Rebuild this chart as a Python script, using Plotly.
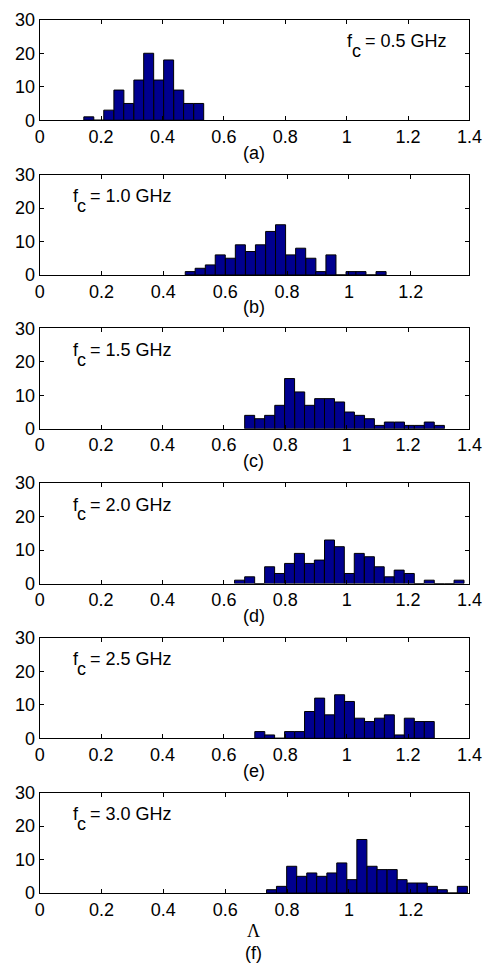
import plotly.graph_objects as go

# ---------------- data ----------------
panel_labels = ["(a)", "(b)", "(c)", "(d)", "(e)", "(f)"]
fc_labels = ["0.5", "1.0", "1.5", "2.0", "2.5", "3.0"]
bin_width = 0.0325

centers_a = [0.160, 0.193, 0.225, 0.258, 0.290, 0.323, 0.355, 0.388, 0.420, 0.453, 0.485, 0.518]
counts_a = [1, 0, 3, 9, 5, 12, 20, 12, 18, 9, 5, 5]

centers_b = [0.487, 0.519, 0.552, 0.584, 0.617, 0.649, 0.682, 0.714, 0.747, 0.779,
             0.812, 0.844, 0.877, 0.909, 0.942, 0.974, 1.007, 1.039, 1.072, 1.104]
counts_b = [1, 2, 3, 6, 5, 9, 7, 9, 13, 15, 6, 8, 5, 1, 6, 0, 1, 1, 0, 1]

centers_c = [0.684, 0.717, 0.749, 0.782, 0.814, 0.847, 0.879, 0.912, 0.944, 0.977,
             1.009, 1.042, 1.074, 1.107, 1.139, 1.172, 1.204, 1.237, 1.269, 1.302]
counts_c = [4, 3, 4, 7, 15, 11, 7, 9, 9, 8, 5, 4, 3, 1, 2, 2, 1, 1, 2, 1]

centers_d = [0.651, 0.684, 0.716, 0.749, 0.781, 0.814, 0.846, 0.879, 0.911, 0.944, 0.976, 1.009,
             1.041, 1.074, 1.106, 1.139, 1.171, 1.204, 1.236, 1.269, 1.301, 1.334, 1.366]
counts_d = [1, 2, 0, 5, 3, 6, 9, 6, 7, 13, 11, 3, 9, 8, 5, 2, 4, 3, 0, 1, 0, 0, 1]

centers_e = [0.717, 0.749, 0.782, 0.814, 0.847, 0.879, 0.912, 0.944, 0.977,
             1.009, 1.042, 1.074, 1.107, 1.139, 1.172, 1.204, 1.237, 1.269]
counts_e = [2, 1, 0, 2, 2, 8, 12, 7, 13, 11, 6, 5, 6, 7, 1, 6, 5, 5]

centers_f = [0.750, 0.782, 0.815, 0.847, 0.880, 0.912, 0.945, 0.977, 1.010, 1.042,
             1.075, 1.107, 1.140, 1.172, 1.205, 1.237, 1.270, 1.302, 1.335, 1.367]
counts_f = [1, 2, 8, 5, 6, 5, 6, 9, 4, 16, 8, 7, 7, 4, 3, 3, 2, 1, 0, 2]

x_max = [1.4, 1.39, 1.4, 1.4, 1.4, 1.39]
y_ticks = [0, 10, 20, 30]
x_ticks = [0, 0.2, 0.4, 0.6, 0.8, 1.0, 1.2, 1.4]
x_ticktext = ["0", "0.2", "0.4", "0.6", "0.8", "1", "1.2", "1.4"]

all_centers = [centers_a, centers_b, centers_c, centers_d, centers_e, centers_f]
all_counts = [counts_a, counts_b, counts_c, counts_d, counts_e, counts_f]

# ---------------- layout ----------------
W, H = 495, 977
left_px, right_px = 36, 482
tops_px = [10, 168, 325, 483, 641, 799]
ax_h = 102.5
FONT = "Liberation Sans, Arial, sans-serif"
FS = 18
BAR_COLOR = "#00008F"

fig = go.Figure()
annotations = []
layout_axes = {}


def add_text(text, x_px, y_px, xanchor="left", family=FONT, size=FS):
    annotations.append(dict(text=text, x=x_px / W, y=1 - y_px / H, xref="paper", yref="paper",
                            xanchor=xanchor, yanchor="middle", showarrow=False,
                            font=dict(family=family, size=size, color="black")))


for i in range(6):
    n = "" if i == 0 else str(i + 1)
    fig.add_trace(go.Bar(
        x=all_centers[i], y=all_counts[i], width=bin_width,
        marker=dict(color=BAR_COLOR, line=dict(color="black", width=1)),
        xaxis="x" + n, yaxis="y" + n, showlegend=False, hoverinfo="x+y",
    ))
    top = tops_px[i]
    y0 = 1 - (top + ax_h) / H
    y1 = 1 - top / H
    common = dict(showline=True, linecolor="black", linewidth=1, mirror="ticks",
                  ticks="inside", ticklen=4, tickwidth=1, tickcolor="black",
                  showgrid=False, zeroline=False,
                  tickfont=dict(family=FONT, size=FS, color="black"))
    layout_axes["xaxis" + n] = dict(
        domain=[left_px / W, right_px / W], anchor="y" + n,
        range=[0, x_max[i]], tickvals=x_ticks, ticktext=x_ticktext, **common)
    layout_axes["yaxis" + n] = dict(
        domain=[y0, y1], anchor="x" + n, range=[0, 30], tickvals=y_ticks, **common)

    fx = 353 if i == 0 else 68
    add_text("f", fx, top + 22)
    add_text("c", fx + 4.5, top + 32)
    add_text("= " + fc_labels[i] + " GHz", fx + 18, top + 22)

    if i < 5:
        add_text(panel_labels[i], 258, top + ax_h + 33, xanchor="center")
    else:
        add_text("Λ", 258, top + ax_h + 39, xanchor="center",
                 family="Liberation Serif, Times New Roman, serif")
        add_text(panel_labels[i], 258, top + ax_h + 61, xanchor="center")

fig.update_layout(
    width=W, height=H, margin=dict(l=0, r=0, t=0, b=0),
    paper_bgcolor="white", plot_bgcolor="white",
    bargap=0, annotations=annotations, **layout_axes,
)

fig.write_html(
    "out.html",
    config={"staticPlot": True},
    post_script=("document.documentElement.style.overflow='hidden';"
                 "document.body.style.overflow='hidden';"
                 "document.body.style.margin='0';"),
)
